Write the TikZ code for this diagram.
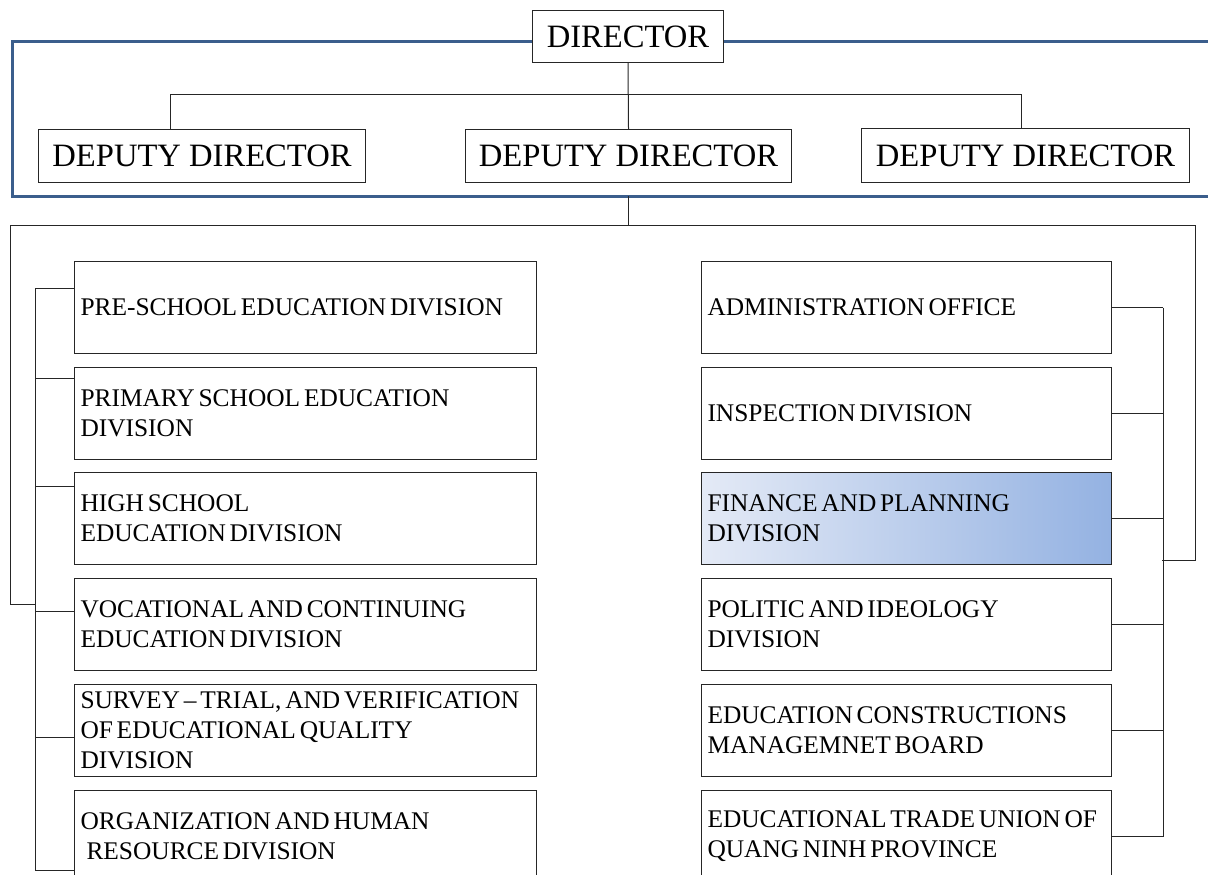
\documentclass[tikz,border=0pt]{standalone}
\usepackage{fontspec}
\setmainfont{Liberation Serif}
\usetikzlibrary{calc,positioning}
\definecolor{frameblue}{RGB}{59,94,140}
\definecolor{shadeleft}{RGB}{228,234,246}
\definecolor{shaderight}{RGB}{148,178,226}
\newcommand\divtext{\raggedright\spaceskip=0.15em plus 0.05em\relax\hyphenpenalty=10000\relax}
\tikzset{
  headbox/.style={draw=black!85, fill=white, line width=0.5pt, anchor=north west,
    inner sep=0pt, font=\fontsize{16.3}{19}\selectfont},
  divbox/.style={draw=black!85, fill=white, line width=0.5pt, anchor=north west,
    inner xsep=3pt, inner ysep=0pt, minimum height=46pt,
    font=\fontsize{12.7}{15}\selectfont, execute at begin node=\divtext},
  divL/.style={divbox, text width=225pt},
  divR/.style={divbox, text width=199pt},
  link/.style={line width=0.5pt, black!85},
  framebox/.style={line width=1.5pt, frameblue}
}
\begin{document}
\begin{tikzpicture}[x=0.5pt,y=-0.5pt]
                \useasboundingbox (0,0) rectangle (1208,874);
                \clip (0,0) rectangle (1208,874);
                
                % Drawing blue frame round the deputies
                \draw [framebox] (1208,41) -| (12,196) -- (1208,196);%
                
                % Drawing box DIRECTOR
                \node [headbox, minimum width=95.5pt, minimum height=26pt] (dir) at (532,10) {DIRECTOR};%
                
                % Drawing boxes DEPUTY DIRECTOR
                \node [headbox, minimum width=163.5pt, minimum height=26.5pt] (depL) at (38,129) {DEPUTY DIRECTOR};%
                \node [headbox, minimum width=163pt, minimum height=26.5pt] (depM) at (465,129) {DEPUTY DIRECTOR};%
                \node [headbox, minimum width=164pt, minimum height=27pt] (depR) at (861,128) {DEPUTY DIRECTOR};%
                
                % Drawing segment dir depM
                \draw [link] (dir.south) -- (depM.north);%
                
                % Drawing segment depL depR
                \draw [link] ($(depL.north west)+(132,0)$) -- ++(0,-35) -| ($(depR.north west)+(160,0)$);%
                
                % Marking points of the lower bus
                \coordinate (frameS) at (628,196);
                \coordinate (hub) at (628,225);
                \coordinate (lcorner) at (10,604);
                \coordinate (ltrunk) at (35,604);
                \coordinate (rcorner) at (1195,560);
                \coordinate (rtrunk) at (1162,560);
                
                % Drawing segment frameS hub
                \draw [link] (frameS) -- (hub);%
                \draw [link] (hub) -| (lcorner) -- (ltrunk);%
                \draw [link] (hub) -| (rcorner) -- (rtrunk);%
                
                % Drawing left divisions
                \node [divL] (l1) at (74,261) {PRE-SCHOOL EDUCATION DIVISION};%
                \node [divL] (l2) at (74,367) {PRIMARY SCHOOL EDUCATION\\ DIVISION};%
                \node [divL] (l3) at (74,472) {HIGH SCHOOL\\ EDUCATION DIVISION};%
                \node [divL] (l4) at (74,578) {VOCATIONAL AND CONTINUING\\ EDUCATION DIVISION};%
                \node [divL] (l5) at (74,684) {SURVEY -- TRIAL, AND VERIFICATION\\ OF EDUCATIONAL QUALITY\\ DIVISION};%
                \node [divL] (l6) at (74,790) {ORGANIZATION AND HUMAN\\ \hspace*{3pt}RESOURCE DIVISION};%
                
                % Drawing right divisions
                \node [divR] (r1) at (701,261) {ADMINISTRATION OFFICE};%
                \node [divR] (r2) at (701,367) {INSPECTION DIVISION};%
                \node [divR, left color=shadeleft, right color=shaderight] (r3) at (701,472) {FINANCE AND PLANNING\\ DIVISION};%
                \node [divR] (r4) at (701,578) {POLITIC AND IDEOLOGY\\ DIVISION};%
                \node [divR] (r5) at (701,684) {EDUCATION CONSTRUCTIONS\\ MANAGEMNET BOARD};%
                \node [divR] (r6) at (701,790) {EDUCATIONAL TRADE UNION OF\\ QUANG NINH PROVINCE};%
                
                % Drawing left branches
                \foreach \n/\o in {l1/27, l2/11, l3/14, l4/33, l5/53, l6/80}
                  \draw [link] ($(\n.north west)+(0,\o)$) -- ++(-39,0);%
                \draw [link] ($(l1.north west)+(-39,27)$) -- ($(l6.north west)+(-39,80)$);%
                
                % Drawing right branches
                \foreach \n in {r1, r2, r3, r4, r5, r6}
                  \draw [link] (\n.east) -- ++(51,0);%
                \draw [link] ($(r1.east)+(51,0)$) -- ($(r6.east)+(51,0)$);%
            \end{tikzpicture}
\end{document}
